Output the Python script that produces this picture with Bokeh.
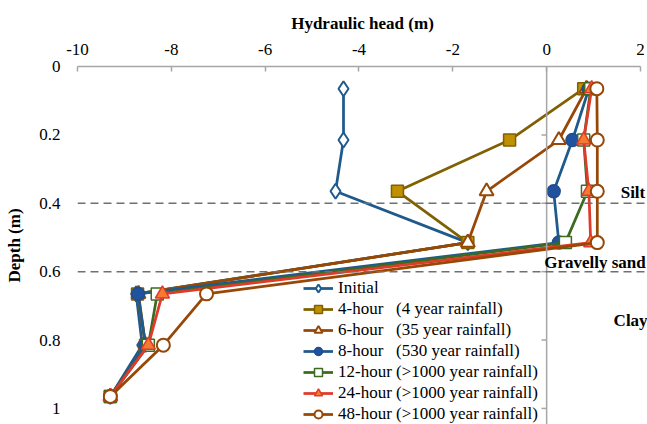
from bokeh.plotting import figure
from bokeh.models import Range1d, Span, Label, Legend, LegendItem, CustomJSTickFormatter, FixedTicker
from bokeh.embed import file_html
from bokeh.resources import INLINE

# ---- data ----
depths = [0.065, 0.215, 0.365, 0.515, 0.665, 0.815, 0.965]
initial = [-4.33, -4.33, -4.50, -1.68, -8.75, -8.62, -9.30]
h4 = [0.79, -0.79, -3.18, -1.68, -8.72, -8.55, -9.30]
h6 = [0.85, 0.26, -1.28, -1.68, -8.70, -8.55, -9.30]
h8 = [0.90, 0.55, 0.15, 0.26, -8.71, -8.55, -9.30]
h12 = [0.94, 0.79, 0.87, 0.40, -8.30, -8.49, -9.30]
h24 = [0.96, 0.79, 0.90, 0.94, -8.19, -8.49, -9.30]
h48 = [1.07, 1.08, 1.08, 1.08, -7.25, -8.17, -9.30]

labels = [
    "Initial",
    "4-hour\u2007 (4 year rainfall)",
    "6-hour\u2007 (35 year rainfall)",
    "8-hour\u2007 (530 year rainfall)",
    "12-hour (>1000 year rainfall)",
    "24-hour (>1000 year rainfall)",
    "48-hour (>1000 year rainfall)",
]
x_ticks = [-10, -8, -6, -4, -2, 0, 2]
y_ticks = [0, 0.2, 0.4, 0.6, 0.8, 1.0]
layer_bounds = [0.4, 0.6]
layer_names = ["Silt", "Gravelly sand", "Clay"]

FONT = "Liberation Serif"

p = figure(width=647, height=424, x_range=Range1d(-10, 2.15), y_range=Range1d(1.047, 0),
           x_axis_location="above", output_backend="svg", toolbar_location=None,
           min_border_left=77, min_border_top=66, min_border_right=0, min_border_bottom=0)
p.outline_line_color = None
p.xgrid.visible = False
p.ygrid.visible = False
p.background_fill_color = "white"

# top axis
xa = p.xaxis[0]
xa.ticker = FixedTicker(ticks=x_ticks)
xa.formatter = CustomJSTickFormatter(code="return String(Math.round(tick));")
xa.bounds = (-10, 2)
xa.axis_line_color = "#A6A6A6"
xa.axis_line_width = 1.5
xa.major_tick_line_color = "#A6A6A6"
xa.major_tick_line_width = 1.5
xa.major_tick_in = 5
xa.major_tick_out = 0
xa.minor_tick_line_color = None
xa.major_label_standoff = 12
xa.major_label_text_font = FONT
xa.major_label_text_font_size = "17px"
xa.major_label_text_color = "black"
xa.axis_label = "Hydraulic head (m)"
xa.axis_label_text_font = FONT
xa.axis_label_text_font_style = "bold"
xa.axis_label_text_font_size = "17px"
xa.axis_label_text_color = "black"
xa.axis_label_standoff = 8

# left axis (labels only)
ya = p.yaxis[0]
ya.ticker = FixedTicker(ticks=y_ticks)
ya.formatter = CustomJSTickFormatter(code="return String(Number(tick.toFixed(1)));")
ya.axis_line_color = None
ya.major_tick_line_color = None
ya.major_tick_in = 0
ya.major_tick_out = 0
ya.minor_tick_line_color = None
ya.major_label_standoff = 17
ya.major_label_text_font = FONT
ya.major_label_text_font_size = "17px"
ya.major_label_text_color = "black"
ya.axis_label = "Depth (m)"
ya.axis_label_text_font = FONT
ya.axis_label_text_font_style = "bold"
ya.axis_label_text_font_size = "17px"
ya.axis_label_text_color = "black"
ya.axis_label_standoff = 12

# vertical axis line at x = 0 and its ticks
p.add_layout(Span(location=0, dimension="height", line_color="#A6A6A6", line_width=1.5))
tick_ys = [t for t in y_ticks if t > 0]
p.segment(x0=[-0.11] * len(tick_ys), x1=[0] * len(tick_ys), y0=tick_ys, y1=tick_ys,
          line_color="#A6A6A6", line_width=1.5)

# layer boundaries
for b in layer_bounds:
    p.add_layout(Span(location=b, dimension="width", line_color="#707070", line_width=1.5,
                      line_dash="8 5"))

# layer names
layer_pos = [(1.84, 0.368), (1.03, 0.573), (1.79, 0.743)]
for name, (lx, ly) in zip(layer_names, layer_pos):
    p.add_layout(Label(x=lx, y=ly, text=name, text_font=FONT, text_font_style="bold",
                       text_font_size="17px", text_align="center", text_baseline="middle",
                       text_color="black"))

series = [
    (initial, "#1F5A8C", dict(marker="diamond", size=15, fill_color="white",
                              line_color="#1F5A8C", line_width=2)),
    (h4, "#806000", dict(marker="square", size=12, fill_color="#BF9000", line_color="#806000",
                         line_width=1.5)),
    (h6, "#974706", dict(marker="triangle", size=14, fill_color="white", line_color="#974706",
                         line_width=2)),
    (h8, "#1F5A8C", dict(marker="circle", size=13, fill_color="#2152A0", line_color="#1F4E8A",
                         line_width=1.5)),
    (h12, "#3A6B21", dict(marker="square", size=12, fill_color="white", line_color="#3A6B21",
                          line_width=1.5)),
    (h24, "#E03A2A", dict(marker="triangle", size=14, fill_color="#F47C30", line_color="#E03A2A",
                          line_width=1.5)),
    (h48, "#974706", dict(marker="circle", size=13, fill_color="white", line_color="#974706",
                          line_width=2)),
]

items = []
for (vals, col, mk), lab in zip(series, labels):
    r1 = p.line(vals, depths, line_color=col, line_width=2.75)
    r2 = p.scatter(vals, depths, **mk)
    items.append(LegendItem(label=lab, renderers=[r1, r2]))

legend = Legend(items=items, location=(226, 0), padding=0, margin=0, spacing=1,
                label_height=20, glyph_height=20, glyph_width=30, label_standoff=5,
                label_text_font=FONT, label_text_font_size="17px", label_text_color="black",
                background_fill_alpha=0, border_line_color=None)
p.add_layout(legend)

open("out.html", "w").write(file_html(p, INLINE))
